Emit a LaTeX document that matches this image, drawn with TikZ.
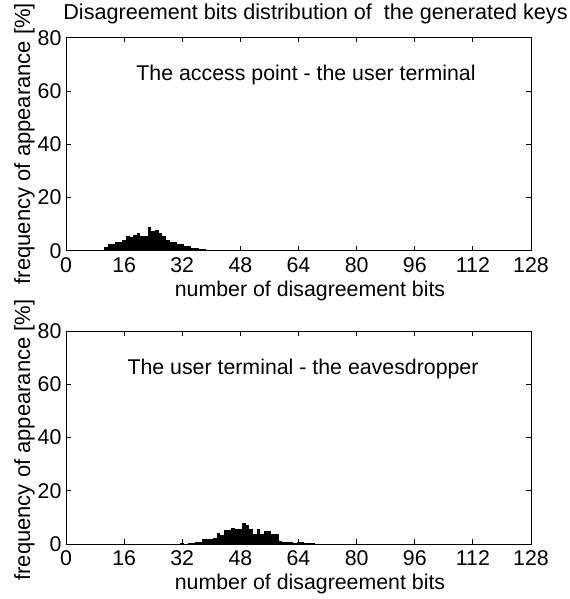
\documentclass[tikz,border=0pt]{standalone}
\usepackage{fontspec}
\setmainfont{Liberation Sans}
\begin{document}
\begin{tikzpicture}[x=0.75pt,y=-0.75pt,
  txt/.style={font=\fontsize{16}{19}\selectfont, inner sep=0pt},
  ttl/.style={font=\fontsize{16.2}{19}\selectfont, inner sep=0pt},
  ylab/.style={font=\fontsize{16.5}{19}\selectfont, inner sep=0pt, rotate=90, anchor=base},
  frame/.style={line width=0.6pt},
  tick/.style={line width=0.6pt},
  bar/.style={fill=black}]
\useasboundingbox (0,0) rectangle (570,599);
\newcommand\myaxes[2]{%
  \draw[frame] (0,0) rectangle (128,80);
  \foreach \t in {0,16,...,128} {
    \draw[tick] (\t,0) -- ++(0pt,3.6pt);
    \draw[tick] (\t,80) -- ++(0pt,-3.6pt);
    \node[txt,anchor=base] (xt\t#2) at ([yshift=-16pt]\t,0) {\t};
  }
  \foreach \v in {0,20,...,80} {
    \draw[tick] (0,\v) -- ++(3.6pt,0pt);
    \draw[tick] (128,\v) -- ++(-3.6pt,0pt);
    \node[txt,anchor=east] (yt\v#2) at ([xshift=-3.2pt]0,\v) {\v};
  }
  \foreach \b/\h in {#1} {\fill[bar] (\b-0.5,0) rectangle (\b+0.5,\h);}
}
% top plot
\begin{scope}[shift={(66,250.7)}, x=2.7246pt, y=1.9969pt]
\myaxes{10/0.4,11/1.4,12/2.5,13/2.5,14/3.1,15/3.1,16/3.9,17/5.6,18/5.2,19/5.8,20/6.6,21/5.4,22/5.5,23/8.8,24/7.3,25/7.9,26/6.6,27/5.4,28/4.1,29/3.3,30/3.3,31/2.5,32/2.5,33/1.6,34/1.6,35/0.9,36/0.9,37/0.75,38/0.75,39/0.4}{a}
\end{scope}
% bottom plot
\begin{scope}[shift={(66,544)}, x=2.7246pt, y=1.9969pt]
\myaxes{30/0.15,31/0.15,32/0.2,33/0.15,34/0.3,35/0.5,36/0.6,37/0.6,38/1.75,39/1.75,40/1.75,41/2.4,42/4.1,43/3.2,44/5.1,45/5.1,46/6.1,47/5.8,48/5.8,49/7.8,50/7.1,51/5.5,52/3.9,53/5.5,54/3.6,55/4.9,56/4.9,57/3.6,58/3.6,59/1.1,60/0.9,61/0.9,62/0.9,63/0.4,64/0.6,65/0.6,66/0.3,67/0.2,68/0.2}{b}
\end{scope}
\node[ttl,anchor=base] (title) at (315.5,19.5) {Disagreement bits distribution of \ the generated keys};
\node[txt,anchor=base] (ta) at (306,81) {The access point - the user terminal};
\node[txt,anchor=base] (tb) at (303,374) {The user terminal - the eavesdropper};
\node[txt,anchor=base] (xla) at (310,296.5) {number of disagreement bits};
\node[txt,anchor=base] (xlb) at (310,589.5) {number of disagreement bits};
\node[ylab] (yla) at (30,143.5) {frequency of appearance [\%]};
\node[ylab] (ylb) at (30,440) {frequency of appearance [\%]};
\end{tikzpicture}
\end{document}
